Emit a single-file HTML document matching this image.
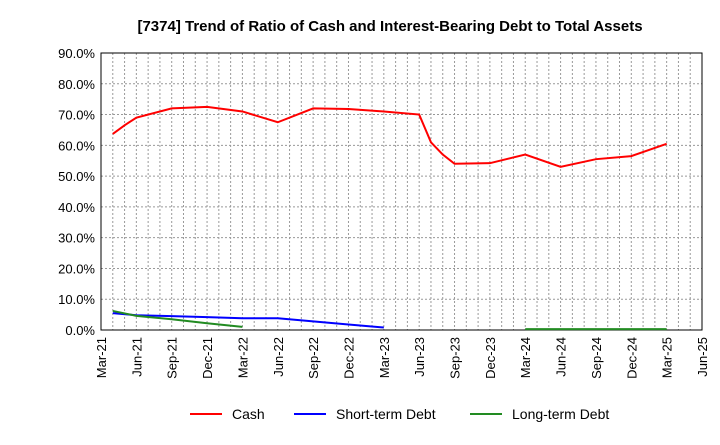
<!DOCTYPE html>
<html><head><meta charset="utf-8"><style>
body{margin:0;background:#fff;font-family:"Liberation Sans",sans-serif}
svg text{font-family:"Liberation Sans",sans-serif}
</style></head><body>
<svg width="720" height="440" viewBox="0 0 720 440">
<text x="390" y="31" text-anchor="middle" font-size="15" font-weight="bold" fill="#000">[7374]  Trend of Ratio of Cash and Interest-Bearing Debt to Total Assets</text>
<g id="grid"></g><g id="axes"></g><g id="series"></g>
<g>
<line x1="190" y1="414" x2="222" y2="414" stroke="#f00" stroke-width="2"/><text x="232" y="419" font-size="14">Cash</text>
<line x1="294" y1="414" x2="326" y2="414" stroke="#00f" stroke-width="2"/><text x="336" y="419" font-size="14">Short-term Debt</text>
<line x1="470" y1="414" x2="502" y2="414" stroke="#228b22" stroke-width="2"/><text x="512" y="419" font-size="14">Long-term Debt</text>
</g>
</svg>
<script>
const xTickLabels=["Mar-21","Jun-21","Sep-21","Dec-21","Mar-22","Jun-22","Sep-22","Dec-22","Mar-23","Jun-23","Sep-23","Dec-23","Mar-24","Jun-24","Sep-24","Dec-24","Mar-25","Jun-25"];
const yTicks=[0,10,20,30,40,50,60,70,80,90];
// month index from Mar-21
const cashMonths=[1,2,3,6,9,12,15,18,21,24,27,28,29,30,33,36,39,42,45,48];
const cashValues=[63.7,66.5,69,72,72.5,71,67.5,72,71.8,71,70,61,57,54,54.2,57,53,55.5,56.5,60.5];
const stdMonths=[1,3,6,9,12,15,18,21,24];
const stdValues=[5.5,4.8,4.5,4.2,3.8,3.8,2.8,1.8,0.8];
const ltdMonths1=[1,3,6,9,12];
const ltdValues1=[6.2,4.6,3.5,2.2,1.0];
const ltdMonths2=[36,39,42,45,48];
const ltdValues2=[0.3,0.3,0.3,0.3,0.3];
const L=101,R=702,T=53,B=330,NM=51;
const X=m=>L+(R-L)*m/NM, Y=v=>B-(B-T)*v/90;
const ns="http://www.w3.org/2000/svg";
function mk(p,t,a){const e=document.createElementNS(ns,t);for(const k in a)e.setAttribute(k,a[k]);p.appendChild(e);return e;}
const grid=document.getElementById('grid'),axes=document.getElementById('axes'),ser=document.getElementById('series');
for(let m=1;m<NM;m++){const l=mk(grid,'line',{x1:X(m),x2:X(m),y1:T,y2:B,stroke:'#999','stroke-dasharray':'2,2','stroke-width':1});

}
yTicks.forEach(v=>{const l=mk(grid,'line',{x1:L,x2:R,y1:Y(v),y2:Y(v),stroke:'#999','stroke-dasharray':'2,2','stroke-width':1});


const t=mk(axes,'text',{x:L-6,y:Y(v)+5,'text-anchor':'end','font-size':13});t.textContent=v.toFixed(1)+'%';

});
const fr=mk(axes,'rect',{x:L,y:T,width:R-L,height:B-T,fill:'none',stroke:'#000','stroke-width':1});


xTickLabels.forEach((s,i)=>{const x=X(i*3);const t=mk(axes,'text',{x:x+5,y:B+7,'text-anchor':'end','font-size':13,transform:`rotate(-90 ${x+5} ${B+7})`});t.textContent=s;

});
function line(ms,vs,c,n){const p=mk(ser,'polyline',{points:ms.map((m,i)=>X(m)+','+Y(vs[i])).join(' '),fill:'none',stroke:c,'stroke-width':2});

}
line(cashMonths,cashValues,'#f00','cash-line');
line(stdMonths,stdValues,'#00f','short-term-debt-line');
line(ltdMonths1,ltdValues1,'#228b22','long-term-debt-line');
line(ltdMonths2,ltdValues2,'#228b22','long-term-debt-line-2');
</script>
</body></html>
